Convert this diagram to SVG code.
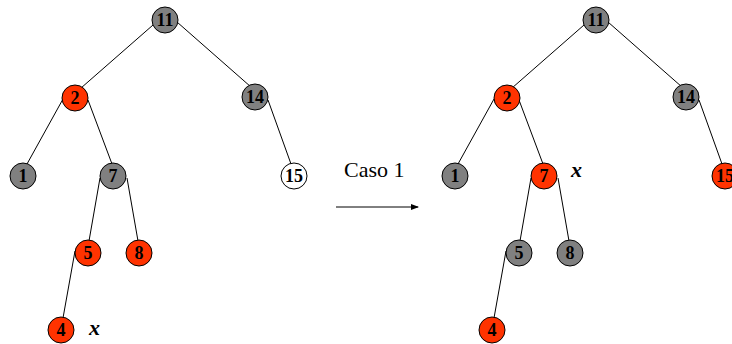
<svg xmlns="http://www.w3.org/2000/svg" width="732" height="344" viewBox="0 0 732 344">
<style>
.e{stroke:#000;stroke-width:1;fill:none}
.g{fill:#808080;stroke:#000;stroke-width:1}
.r{fill:#FF3300;stroke:#000;stroke-width:1}
.w{fill:#fff;stroke:#000;stroke-width:1}
.n{font-family:"Liberation Serif",serif;font-weight:bold;font-size:18px;text-anchor:middle;fill:#000}
.x{font-family:"Liberation Serif",serif;font-weight:bold;font-style:italic;font-size:22px;fill:#000}
.c{font-family:"Liberation Serif",serif;font-size:22px;fill:#000}
</style>
<defs>
<marker id="ah" markerWidth="8" markerHeight="8" refX="7" refY="4" orient="auto" markerUnits="userSpaceOnUse">
<path d="M0,1 L8,4 L0,7 Z" fill="#000"/>
</marker>
</defs>
<g id="connectors">
<line class="e" x1="153" y1="25" x2="81" y2="88"/>
<line class="e" x1="177" y1="22" x2="251" y2="87"/>
<line class="e" x1="63" y1="99" x2="27" y2="164"/>
<line class="e" x1="88" y1="100" x2="112" y2="164"/>
<line class="e" x1="268" y1="100" x2="291" y2="164"/>
<line class="e" x1="100" y1="178" x2="89" y2="241"/>
<line class="e" x1="127" y1="178" x2="138" y2="241"/>
<line class="e" x1="75" y1="251" x2="63" y2="318"/>
<line class="e" x1="584" y1="25" x2="512" y2="88"/>
<line class="e" x1="608" y1="22" x2="682" y2="87"/>
<line class="e" x1="494" y1="99" x2="458" y2="164"/>
<line class="e" x1="519" y1="100" x2="543" y2="164"/>
<line class="e" x1="699" y1="100" x2="722" y2="164"/>
<line class="e" x1="531" y1="178" x2="520" y2="241"/>
<line class="e" x1="558" y1="178" x2="569" y2="241"/>
<line class="e" x1="506" y1="251" x2="494" y2="318"/>
<line class="e" x1="336" y1="207" x2="418" y2="207" marker-end="url(#ah)"/>
</g>
<g id="L11"><circle class="g" cx="165" cy="20" r="13"/><text class="n" x="165" y="26">11</text></g>
<g id="L2"><circle class="r" cx="75" cy="98" r="13"/><text class="n" x="75" y="104">2</text></g>
<g id="L14"><circle class="g" cx="255" cy="97" r="13"/><text class="n" x="255" y="103">14</text></g>
<g id="L1"><circle class="g" cx="23" cy="176" r="13"/><text class="n" x="23" y="182">1</text></g>
<g id="L7"><circle class="g" cx="113" cy="176" r="13"/><text class="n" x="113" y="182">7</text></g>
<g id="L15"><circle class="w" cx="294" cy="176" r="13"/><text class="n" x="294" y="182">15</text></g>
<g id="L5"><circle class="r" cx="88" cy="253" r="13"/><text class="n" x="88" y="259">5</text></g>
<g id="L8"><circle class="r" cx="139" cy="253" r="13"/><text class="n" x="139" y="259">8</text></g>
<g id="L4"><circle class="r" cx="61" cy="330" r="13"/><text class="n" x="61" y="336">4</text></g>
<text class="x" x="89" y="335">x</text>
<g id="R11"><circle class="g" cx="596" cy="20" r="13"/><text class="n" x="596" y="26">11</text></g>
<g id="R2"><circle class="r" cx="507" cy="98" r="13"/><text class="n" x="507" y="104">2</text></g>
<g id="R14"><circle class="g" cx="686" cy="97" r="13"/><text class="n" x="686" y="103">14</text></g>
<g id="R1"><circle class="g" cx="455" cy="176" r="13"/><text class="n" x="455" y="182">1</text></g>
<g id="R7"><circle class="r" cx="544" cy="176" r="13"/><text class="n" x="544" y="182">7</text></g>
<g id="R15"><circle class="r" cx="725" cy="176" r="13"/><text class="n" x="725" y="182">15</text></g>
<g id="R5"><circle class="g" cx="519" cy="253" r="13"/><text class="n" x="519" y="259">5</text></g>
<g id="R8"><circle class="g" cx="570" cy="253" r="13"/><text class="n" x="570" y="259">8</text></g>
<g id="R4"><circle class="r" cx="492" cy="330" r="13"/><text class="n" x="492" y="336">4</text></g>
<text class="x" x="571" y="177">x</text>
<text class="c" x="344" y="177">Caso 1</text>
</svg>
